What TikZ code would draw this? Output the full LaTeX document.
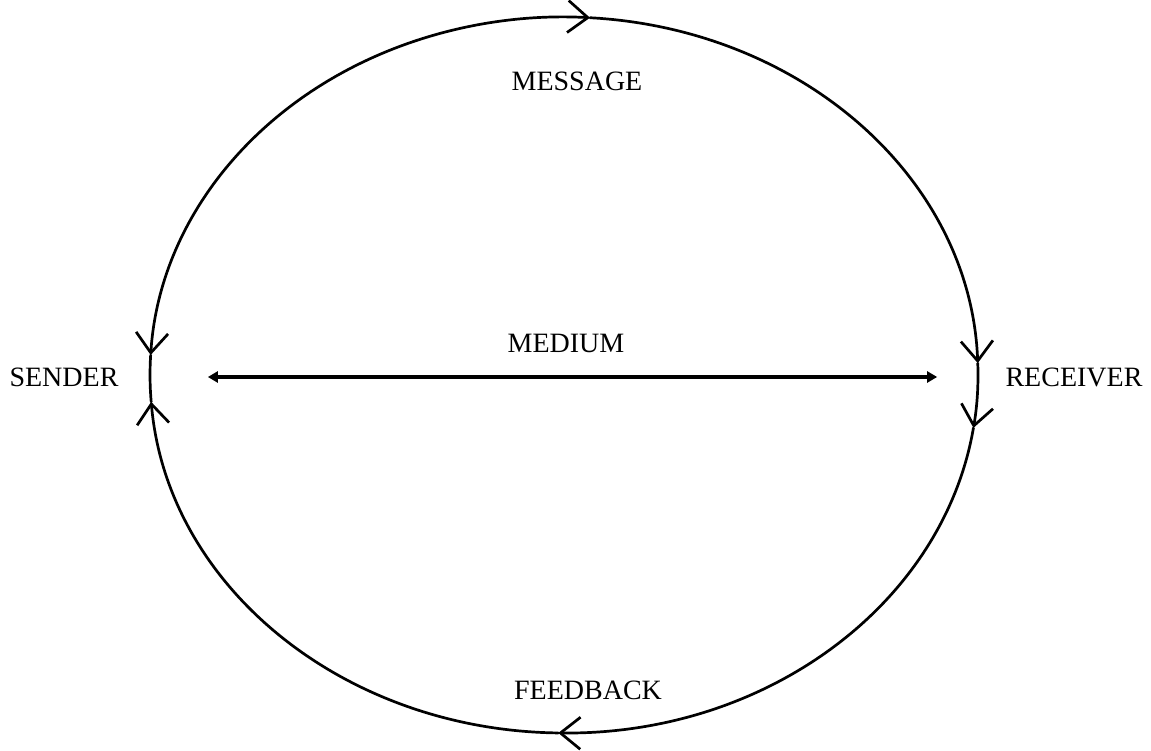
\documentclass[tikz,border=0pt]{standalone}
\usepackage{fontspec}
\setmainfont{Liberation Serif}
\usetikzlibrary{arrows.meta,calc}

\begin{document}
\begin{tikzpicture}[
  x=1pt,y=1pt,
  word/.style={font=\fontsize{14}{16}\selectfont,inner sep=0pt},
  ring/.style={line width=1.35pt,line cap=round},
  barb/.tip={Straight Barb[length=10pt,width=16pt,line width=1.35pt]},
  medium/.style={{Triangle[length=5pt,width=5.5pt]}-{Triangle[length=5pt,width=5.5pt]},line width=1.9pt}
]
\useasboundingbox (0,0) rectangle (575.5,375);
\coordinate (c) at (282,187.5);
% points on the loop
\coordinate (sIn)  at ($(c)+(176.8:207pt and 179pt)$);
\coordinate (mTip) at ($(c)+(86.4:207pt and 179pt)$);
\coordinate (rIn)  at ($(c)+(1.9:207pt and 179pt)$);
\coordinate (rOut) at ($(c)+(-8.5:207pt and 179pt)$);
\coordinate (fTip) at ($(c)+(-90.8:207pt and 179pt)$);
\coordinate (sBack) at ($(c)+(-175.7:207pt and 179pt)$);

\node[word] (sender) at (32,186.5) {SENDER};
\node[word] (receiver) at (537,186.5) {RECEIVER};
\node[word] (message) at (288.5,334.5) {MESSAGE};
\node[word] (medium) at (283,203.5) {MEDIUM};
\node[word] (feedback) at (294,30) {FEEDBACK};

\draw[ring,barb-barb] (sIn) arc[start angle=176.8,end angle=86.4,x radius=207pt,y radius=179pt];
\draw[ring,-barb] (mTip) arc[start angle=86.4,end angle=1.9,x radius=207pt,y radius=179pt];
\draw[ring,-barb] (rIn) arc[start angle=1.9,end angle=-8.5,x radius=207pt,y radius=179pt];
\draw[ring,-barb] (rOut) arc[start angle=-8.5,end angle=-90.8,x radius=207pt,y radius=179pt];
\draw[ring,-barb] (fTip) arc[start angle=-90.8,end angle=-175.7,x radius=207pt,y radius=179pt];
\draw[ring] (sBack) arc[start angle=-175.7,end angle=-183.2,x radius=207pt,y radius=179pt];

\draw[medium,shorten <=44.5pt,shorten >=34pt] (sender.east) -- (receiver.west);
\end{tikzpicture}
\end{document}
